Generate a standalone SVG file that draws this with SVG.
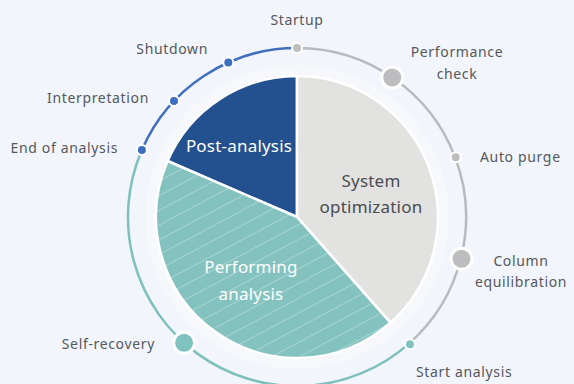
<svg xmlns="http://www.w3.org/2000/svg" width="574" height="384" viewBox="0 0 574 384">
<defs>
<pattern id="stripes" patternUnits="userSpaceOnUse" width="13" height="13" patternTransform="rotate(-28)">
<rect width="13" height="13" fill="#83c2bf"/>
<line x1="0" y1="0.5" x2="13" y2="0.5" stroke="#ffffff" stroke-opacity="0.3" stroke-width="1"/>
</pattern>
<style>
.lbl{font-family:"Noto Sans","Open Sans",sans-serif;font-size:14px;fill:#55585d;letter-spacing:0.65px}
.pl{font-family:"Noto Sans","Open Sans",sans-serif;font-size:17px;letter-spacing:0.2px}
.slice{stroke:#ffffff;stroke-width:2.5;stroke-linejoin:round}
.ring{fill:none;stroke-width:2.5}
.dot{stroke:#ffffff}
.sm{stroke-width:2}
.lg{stroke-width:3}
.g{fill:#bdbdbf}
.b{fill:#3d6fbf}
.t{fill:#7ec3c0}
</style>
</defs>
<rect width="574" height="384" fill="#f2f5fb"/>
<circle cx="297" cy="217" r="152" fill="#ffffff" fill-opacity="0.35"/>
<g id="connectors">
<path class="ring" stroke="#3f6fbd" d="M141.9,149.9 A169,169 0 0 1 297,48"/>
<path class="ring" stroke="#b9babd" d="M297,48 A169,169 0 0 1 409,343.6"/>
<path class="ring" stroke="#7dc0bd" d="M409,343.6 A169,169 0 0 1 141.9,149.9"/>
</g>
<g id="post-analysis">
<path class="slice" fill="#23508e" d="M297,217 L167.6,161 A141,141 0 0 1 297,76 Z"/>
<text class="pl" x="239" y="152" text-anchor="middle" fill="#ffffff">Post-analysis</text>
</g>
<g id="system-optimization">
<path class="slice" fill="#e2e2e0" d="M297,217 L297,76 A141,141 0 0 1 390.4,322.6 Z"/>
<text class="pl" x="371" y="187" text-anchor="middle" fill="#4a4c50">System</text>
<text class="pl" x="371" y="213" text-anchor="middle" fill="#4a4c50">optimization</text>
</g>
<g id="performing-analysis">
<path class="slice" fill="url(#stripes)" d="M297,217 L390.4,322.6 A141,141 0 0 1 167.6,161 Z"/>
<text class="pl" x="251" y="273" text-anchor="middle" fill="#ffffff">Performing</text>
<text class="pl" x="251" y="300" text-anchor="middle" fill="#ffffff">analysis</text>
</g>
<g id="startup">
<circle class="dot sm g" cx="297" cy="48" r="5"/>
<text class="lbl" x="297" y="25" text-anchor="middle">Startup</text>
</g>
<g id="performance-check">
<circle class="dot lg g" cx="392.2" cy="77.4" r="10.5"/>
<text class="lbl" x="457" y="57" text-anchor="middle">Performance</text>
<text class="lbl" x="457" y="79" text-anchor="middle">check</text>
</g>
<g id="auto-purge">
<circle class="dot sm g" cx="455.7" cy="157.3" r="5"/>
<text class="lbl" x="480" y="162">Auto purge</text>
</g>
<g id="column-equilibration">
<circle class="dot lg g" cx="461.5" cy="258.8" r="10.5"/>
<text class="lbl" x="521" y="266" text-anchor="middle">Column</text>
<text class="lbl" x="521" y="287" text-anchor="middle">equilibration</text>
</g>
<g id="start-analysis">
<circle class="dot sm t" cx="410" cy="344.3" r="5"/>
<text class="lbl" x="416" y="377">Start analysis</text>
</g>
<g id="self-recovery">
<circle class="dot lg t" cx="184.1" cy="342.8" r="10.5"/>
<text class="lbl" x="155" y="349" text-anchor="end">Self-recovery</text>
</g>
<g id="end-of-analysis">
<circle class="dot sm b" cx="141.9" cy="149.9" r="5"/>
<text class="lbl" x="118" y="153" text-anchor="end">End of analysis</text>
</g>
<g id="interpretation">
<circle class="dot sm b" cx="174" cy="101.1" r="5"/>
<text class="lbl" x="149" y="103" text-anchor="end">Interpretation</text>
</g>
<g id="shutdown">
<circle class="dot sm b" cx="228.3" cy="62.6" r="5"/>
<text class="lbl" x="208" y="54" text-anchor="end">Shutdown</text>
</g>
</svg>
